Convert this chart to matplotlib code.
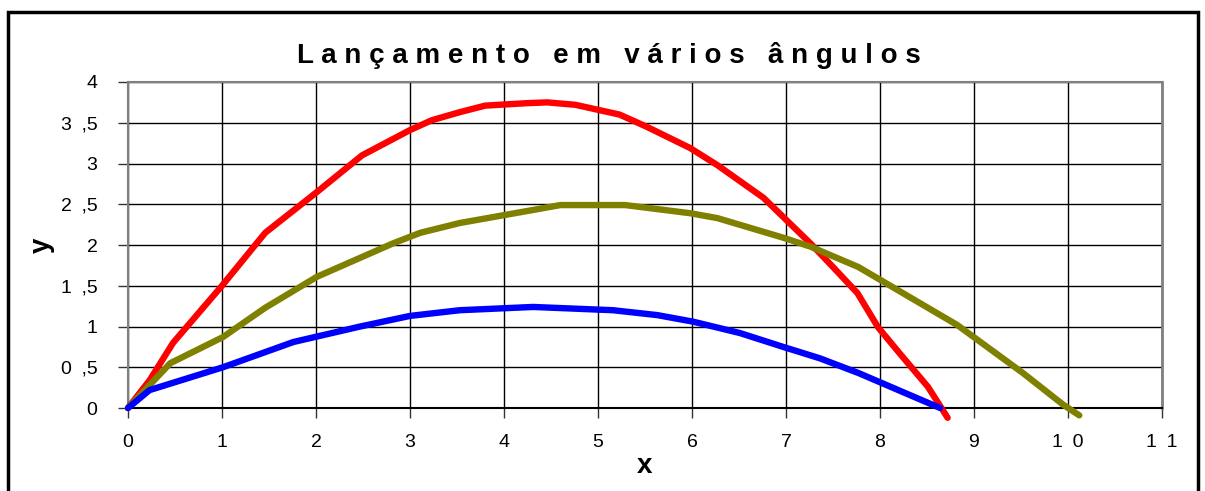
import numpy as np
import matplotlib
matplotlib.use("Agg")
import matplotlib.pyplot as plt
from matplotlib.patches import Rectangle

plt.rcParams['font.family'] = ['Liberation Sans', 'DejaVu Sans']

# trajectórias
x_red = [0, 0.23, 0.48, 1.0, 1.46, 2.01, 2.49, 3.0, 3.23, 3.53, 3.80, 4.24, 4.46, 4.76,
         5.23, 5.52, 5.98, 6.27, 6.76, 7.26, 7.5, 7.76, 7.98, 8.21, 8.51, 8.72]
y_red = [0, 0.34, 0.80, 1.50, 2.15, 2.65, 3.10, 3.41, 3.53, 3.63, 3.71, 3.74, 3.75, 3.72,
         3.60, 3.45, 3.19, 2.98, 2.58, 2.02, 1.73, 1.41, 0.99, 0.67, 0.26, -0.12]

x_olive = [0, 0.45, 1.01, 1.46, 2.01, 2.82, 3.11, 3.53, 4.31, 4.6, 5.29, 5.98, 6.27,
           6.97, 7.26, 7.77, 8.82, 9.52, 9.95, 10.12]
y_olive = [0, 0.55, 0.87, 1.23, 1.61, 2.02, 2.15, 2.27, 2.43, 2.49, 2.49, 2.39, 2.33,
           2.09, 1.98, 1.73, 1.02, 0.43, 0.04, -0.09]

x_blue = [0, 0.23, 1.01, 1.76, 2.47, 3.0, 3.53, 4.31, 5.16, 5.63, 6.01, 6.51, 6.97,
          7.36, 7.77, 8.64]
y_blue = [0, 0.22, 0.50, 0.81, 1.0, 1.13, 1.20, 1.24, 1.20, 1.14, 1.06, 0.92, 0.75,
          0.61, 0.43, 0]

sp = '\u2002'  # espaço largo, como no Excel
xticks = list(range(0, 12))
xlabels = ['0', '1', '2', '3', '4', '5', '6', '7', '8', '9', '1' + sp + '0', '1' + sp + '1']
yticks = [0, 0.5, 1, 1.5, 2, 2.5, 3, 3.5, 4]
ylabels = ['0', '0' + sp + ',5', '1', '1' + sp + ',5', '2', '2' + sp + ',5', '3', '3' + sp + ',5', '4']

fig = plt.figure(figsize=(12.05, 4.91), dpi=100)
ax = fig.add_axes([0.1062, 0.169, 0.8581, 0.664])

ax.plot(x_red, y_red, color='#FF0000', lw=4.6, solid_capstyle='round', clip_on=False, zorder=3)
ax.plot(x_olive, y_olive, color='#808000', lw=4.6, solid_capstyle='round', clip_on=False, zorder=3)
ax.plot(x_blue, y_blue, color='#0000FF', lw=4.6, solid_capstyle='round', clip_on=False, zorder=4)

ax.set_xlim(0, 11)
ax.set_ylim(0, 4)
ax.set_xticks(xticks)
ax.set_xticklabels(xlabels, fontsize=14)
ax.set_yticks(yticks)
ax.set_yticklabels(ylabels, fontsize=14)
ax.tick_params(direction='out', length=7, width=1, color='#333333')
ax.tick_params(axis='x', pad=12)
ax.tick_params(axis='y', pad=15)
ax.grid(True, color='black', lw=1)
ax.set_axisbelow(True)
for s in ['top', 'left']:
    ax.spines[s].set_color('#808080')
    ax.spines[s].set_linewidth(1.5)
ax.spines['right'].set_color('#808080')
ax.spines['right'].set_linewidth(2)
ax.spines['bottom'].set_color('black')
ax.spines['bottom'].set_linewidth(1.5)

ax.set_xlabel('x', fontsize=20, fontweight='bold', labelpad=1)
ax.set_ylabel('y', fontsize=20, fontweight='bold', labelpad=4)

fig.text(0.505, 0.872, 'L a n ç a m e n t o   e m   v á r i o s   â n g u l o s',
         ha='center', va='baseline', fontsize=20, fontweight='bold')

# moldura do gráfico
fig.patches.append(Rectangle((0.0066, -0.05), 0.9875, 1.026, transform=fig.transFigure,
                             fill=False, edgecolor='black', lw=2.5))

plt.savefig('out.png', dpi=100)
